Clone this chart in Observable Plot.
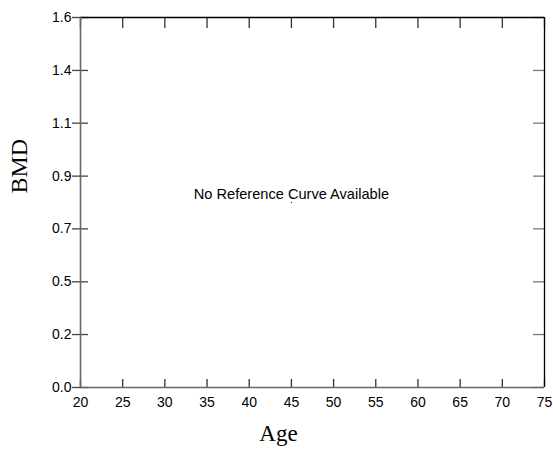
<!DOCTYPE html>
<html>
<head>
<meta charset="utf-8">
<script src="https://cdn.jsdelivr.net/npm/d3@7"></script>
<script src="https://cdn.jsdelivr.net/npm/@observablehq/plot@0.6"></script>
<style>
  html, body { margin: 0; padding: 0; background: #fff; }
  #chart svg { display: block; }
</style>
</head>
<body>
<div id="chart"></div>
<script>
const xTicks = [20, 25, 30, 35, 40, 45, 50, 55, 60, 65, 70, 75];
const yTicks = [0, 0.229, 0.457, 0.686, 0.914, 1.143, 1.371, 1.6];
const yTickLabels = ["0.0", "0.2", "0.5", "0.7", "0.9", "1.1", "1.4", "1.6"];
const xDomain = [20, 75];
const yDomain = [0, 1.6];
const notes = [{age: 45, bmd: 0.8, text: "No Reference Curve Available"}];
const xTitle = "Age";
const yTitle = "BMD";

const W = 553, H = 452;
const mL = 80, mR = 9, mT = 17, mB = 65;
const frameW = W - mL - mR, frameH = H - mT - mB;
const serif = "'Liberation Serif', 'Times New Roman', serif";

const chart = Plot.plot({
  width: W,
  height: H,
  marginLeft: mL,
  marginRight: mR,
  marginTop: mT,
  marginBottom: mB,
  style: {fontFamily: "'Liberation Sans', Arial, sans-serif", fontSize: "14px", color: "#000", background: "#fff"},
  x: {domain: xDomain},
  y: {domain: yDomain},
  marks: [
    // tick labels
    Plot.axisX({ticks: xTicks, tickSize: 0, tickPadding: 10, tickFormat: d => String(d), label: null, fontSize: 14}),
    Plot.axisY({ticks: yTicks, tickSize: 0, tickPadding: 9, tickFormat: (d, i) => yTickLabels[i], label: null, fontSize: 14}),
    // bottom ticks (inward)
    Plot.tickX(xTicks, {x: d => d, insetTop: frameH - 8, stroke: "#333", strokeWidth: 1.3}),
    // top ticks (inward)
    Plot.tickX(xTicks, {x: d => d, insetBottom: frameH - 11, stroke: "#333", strokeWidth: 1.3}),
    // left ticks (crossing)
    Plot.tickY(yTicks, {y: d => d, insetLeft: -8, insetRight: frameW - 8, stroke: "#444", strokeWidth: 1.3}),
    // right ticks (inward)
    Plot.tickY(yTicks, {y: d => d, insetLeft: frameW - 11, stroke: "#777", strokeWidth: 1.3}),
    // frame lines
    Plot.ruleY([yDomain[1]], {stroke: "#000", strokeWidth: 1.3}),
    Plot.ruleX([xDomain[1]], {stroke: "#000", strokeWidth: 1.3}),
    Plot.ruleX([xDomain[0]], {stroke: "#666", strokeWidth: 1.6}),
    Plot.ruleY([yDomain[0]], {stroke: "#666", strokeWidth: 1.6}),
    // note
    Plot.dot(notes, {x: "age", y: "bmd", r: 0.7, fill: "#2233cc", stroke: null}),
    Plot.text(notes, {x: "age", y: "bmd", text: "text", dy: -8, fontSize: 14.6, fill: "#000"}),
    // axis titles
    Plot.text([yTitle], {frameAnchor: "left", dx: -61.5, dy: -9, rotate: -90, fontFamily: serif, fontSize: 24, fill: "#000"}),
    Plot.text([xTitle], {frameAnchor: "bottom", dx: -34, dy: 53, fontFamily: serif, fontSize: 23, fill: "#000"})
  ]
});
document.getElementById("chart").appendChild(chart);
</script>
</body>
</html>
